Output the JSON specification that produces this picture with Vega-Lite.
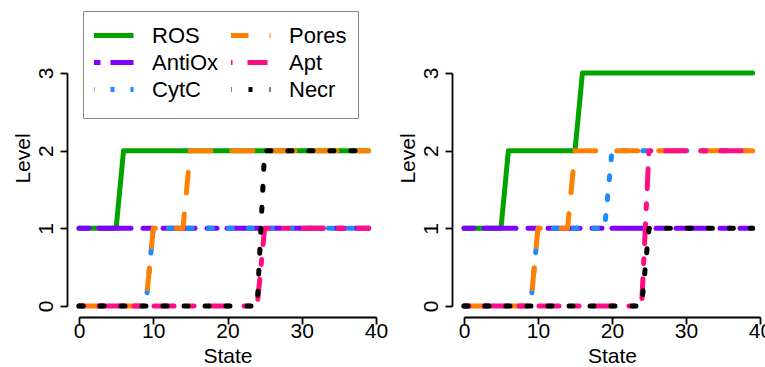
{
  "$schema": "https://vega.github.io/schema/vega-lite/v6.json",
  "padding": {"left": 12, "top": 10, "right": 0, "bottom": 0},
  "bounds": "flush",
  "spacing": 88,
  "config": {
    "view": {"stroke": null},
    "font": "Liberation Sans",
    "line": {"strokeWidth": 5, "strokeCap": "round", "strokeJoin": "round"},
    "axis": {"domainColor": "black", "tickColor": "black", "labelColor": "black", "titleColor": "black", "labelFontSize": 21, "titleFontSize": 21, "titleFontWeight": "normal", "grid": false, "domainWidth": 1.8, "tickWidth": 1.8, "tickSize": 7, "labelFont": "Liberation Sans", "titleFont": "Liberation Sans"}
  },
  "datasets": {
    "left": [
      {"state":0,"ROS":1,"AntiOx":1,"CytC":0,"Pores":0,"Apt":0,"Necr":0},
      {"state":1,"ROS":1,"AntiOx":1,"CytC":0,"Pores":0,"Apt":0,"Necr":0},
      {"state":2,"ROS":1,"AntiOx":1,"CytC":0,"Pores":0,"Apt":0,"Necr":0},
      {"state":3,"ROS":1,"AntiOx":1,"CytC":0,"Pores":0,"Apt":0,"Necr":0},
      {"state":4,"ROS":1,"AntiOx":1,"CytC":0,"Pores":0,"Apt":0,"Necr":0},
      {"state":5,"ROS":1,"AntiOx":1,"CytC":0,"Pores":0,"Apt":0,"Necr":0},
      {"state":6,"ROS":2,"AntiOx":1,"CytC":0,"Pores":0,"Apt":0,"Necr":0},
      {"state":7,"ROS":2,"AntiOx":1,"CytC":0,"Pores":0,"Apt":0,"Necr":0},
      {"state":8,"ROS":2,"AntiOx":1,"CytC":0,"Pores":0,"Apt":0,"Necr":0},
      {"state":9,"ROS":2,"AntiOx":1,"CytC":0,"Pores":0,"Apt":0,"Necr":0},
      {"state":10,"ROS":2,"AntiOx":1,"CytC":1,"Pores":1,"Apt":0,"Necr":0},
      {"state":11,"ROS":2,"AntiOx":1,"CytC":1,"Pores":1,"Apt":0,"Necr":0},
      {"state":12,"ROS":2,"AntiOx":1,"CytC":1,"Pores":1,"Apt":0,"Necr":0},
      {"state":13,"ROS":2,"AntiOx":1,"CytC":1,"Pores":1,"Apt":0,"Necr":0},
      {"state":14,"ROS":2,"AntiOx":1,"CytC":1,"Pores":1,"Apt":0,"Necr":0},
      {"state":15,"ROS":2,"AntiOx":1,"CytC":1,"Pores":2,"Apt":0,"Necr":0},
      {"state":16,"ROS":2,"AntiOx":1,"CytC":1,"Pores":2,"Apt":0,"Necr":0},
      {"state":17,"ROS":2,"AntiOx":1,"CytC":1,"Pores":2,"Apt":0,"Necr":0},
      {"state":18,"ROS":2,"AntiOx":1,"CytC":1,"Pores":2,"Apt":0,"Necr":0},
      {"state":19,"ROS":2,"AntiOx":1,"CytC":1,"Pores":2,"Apt":0,"Necr":0},
      {"state":20,"ROS":2,"AntiOx":1,"CytC":1,"Pores":2,"Apt":0,"Necr":0},
      {"state":21,"ROS":2,"AntiOx":1,"CytC":1,"Pores":2,"Apt":0,"Necr":0},
      {"state":22,"ROS":2,"AntiOx":1,"CytC":1,"Pores":2,"Apt":0,"Necr":0},
      {"state":23,"ROS":2,"AntiOx":1,"CytC":1,"Pores":2,"Apt":0,"Necr":0},
      {"state":24,"ROS":2,"AntiOx":1,"CytC":1,"Pores":2,"Apt":0,"Necr":0},
      {"state":25,"ROS":2,"AntiOx":1,"CytC":1,"Pores":2,"Apt":1,"Necr":2},
      {"state":26,"ROS":2,"AntiOx":1,"CytC":1,"Pores":2,"Apt":1,"Necr":2},
      {"state":27,"ROS":2,"AntiOx":1,"CytC":1,"Pores":2,"Apt":1,"Necr":2},
      {"state":28,"ROS":2,"AntiOx":1,"CytC":1,"Pores":2,"Apt":1,"Necr":2},
      {"state":29,"ROS":2,"AntiOx":1,"CytC":1,"Pores":2,"Apt":1,"Necr":2},
      {"state":30,"ROS":2,"AntiOx":1,"CytC":1,"Pores":2,"Apt":1,"Necr":2},
      {"state":31,"ROS":2,"AntiOx":1,"CytC":1,"Pores":2,"Apt":1,"Necr":2},
      {"state":32,"ROS":2,"AntiOx":1,"CytC":1,"Pores":2,"Apt":1,"Necr":2},
      {"state":33,"ROS":2,"AntiOx":1,"CytC":1,"Pores":2,"Apt":1,"Necr":2},
      {"state":34,"ROS":2,"AntiOx":1,"CytC":1,"Pores":2,"Apt":1,"Necr":2},
      {"state":35,"ROS":2,"AntiOx":1,"CytC":1,"Pores":2,"Apt":1,"Necr":2},
      {"state":36,"ROS":2,"AntiOx":1,"CytC":1,"Pores":2,"Apt":1,"Necr":2},
      {"state":37,"ROS":2,"AntiOx":1,"CytC":1,"Pores":2,"Apt":1,"Necr":2},
      {"state":38,"ROS":2,"AntiOx":1,"CytC":1,"Pores":2,"Apt":1,"Necr":2},
      {"state":39,"ROS":2,"AntiOx":1,"CytC":1,"Pores":2,"Apt":1,"Necr":2}
    ],
    "right": [
      {"state":0,"ROS":1,"AntiOx":1,"CytC":0,"Pores":0,"Apt":0,"Necr":0},
      {"state":1,"ROS":1,"AntiOx":1,"CytC":0,"Pores":0,"Apt":0,"Necr":0},
      {"state":2,"ROS":1,"AntiOx":1,"CytC":0,"Pores":0,"Apt":0,"Necr":0},
      {"state":3,"ROS":1,"AntiOx":1,"CytC":0,"Pores":0,"Apt":0,"Necr":0},
      {"state":4,"ROS":1,"AntiOx":1,"CytC":0,"Pores":0,"Apt":0,"Necr":0},
      {"state":5,"ROS":1,"AntiOx":1,"CytC":0,"Pores":0,"Apt":0,"Necr":0},
      {"state":6,"ROS":2,"AntiOx":1,"CytC":0,"Pores":0,"Apt":0,"Necr":0},
      {"state":7,"ROS":2,"AntiOx":1,"CytC":0,"Pores":0,"Apt":0,"Necr":0},
      {"state":8,"ROS":2,"AntiOx":1,"CytC":0,"Pores":0,"Apt":0,"Necr":0},
      {"state":9,"ROS":2,"AntiOx":1,"CytC":0,"Pores":0,"Apt":0,"Necr":0},
      {"state":10,"ROS":2,"AntiOx":1,"CytC":1,"Pores":1,"Apt":0,"Necr":0},
      {"state":11,"ROS":2,"AntiOx":1,"CytC":1,"Pores":1,"Apt":0,"Necr":0},
      {"state":12,"ROS":2,"AntiOx":1,"CytC":1,"Pores":1,"Apt":0,"Necr":0},
      {"state":13,"ROS":2,"AntiOx":1,"CytC":1,"Pores":1,"Apt":0,"Necr":0},
      {"state":14,"ROS":2,"AntiOx":1,"CytC":1,"Pores":1,"Apt":0,"Necr":0},
      {"state":15,"ROS":2,"AntiOx":1,"CytC":1,"Pores":2,"Apt":0,"Necr":0},
      {"state":16,"ROS":3,"AntiOx":1,"CytC":1,"Pores":2,"Apt":0,"Necr":0},
      {"state":17,"ROS":3,"AntiOx":1,"CytC":1,"Pores":2,"Apt":0,"Necr":0},
      {"state":18,"ROS":3,"AntiOx":1,"CytC":1,"Pores":2,"Apt":0,"Necr":0},
      {"state":19,"ROS":3,"AntiOx":1,"CytC":1,"Pores":2,"Apt":0,"Necr":0},
      {"state":20,"ROS":3,"AntiOx":1,"CytC":2,"Pores":2,"Apt":0,"Necr":0},
      {"state":21,"ROS":3,"AntiOx":1,"CytC":2,"Pores":2,"Apt":0,"Necr":0},
      {"state":22,"ROS":3,"AntiOx":1,"CytC":2,"Pores":2,"Apt":0,"Necr":0},
      {"state":23,"ROS":3,"AntiOx":1,"CytC":2,"Pores":2,"Apt":0,"Necr":0},
      {"state":24,"ROS":3,"AntiOx":1,"CytC":2,"Pores":2,"Apt":0,"Necr":0},
      {"state":25,"ROS":3,"AntiOx":1,"CytC":2,"Pores":2,"Apt":2,"Necr":1},
      {"state":26,"ROS":3,"AntiOx":1,"CytC":2,"Pores":2,"Apt":2,"Necr":1},
      {"state":27,"ROS":3,"AntiOx":1,"CytC":2,"Pores":2,"Apt":2,"Necr":1},
      {"state":28,"ROS":3,"AntiOx":1,"CytC":2,"Pores":2,"Apt":2,"Necr":1},
      {"state":29,"ROS":3,"AntiOx":1,"CytC":2,"Pores":2,"Apt":2,"Necr":1},
      {"state":30,"ROS":3,"AntiOx":1,"CytC":2,"Pores":2,"Apt":2,"Necr":1},
      {"state":31,"ROS":3,"AntiOx":1,"CytC":2,"Pores":2,"Apt":2,"Necr":1},
      {"state":32,"ROS":3,"AntiOx":1,"CytC":2,"Pores":2,"Apt":2,"Necr":1},
      {"state":33,"ROS":3,"AntiOx":1,"CytC":2,"Pores":2,"Apt":2,"Necr":1},
      {"state":34,"ROS":3,"AntiOx":1,"CytC":2,"Pores":2,"Apt":2,"Necr":1},
      {"state":35,"ROS":3,"AntiOx":1,"CytC":2,"Pores":2,"Apt":2,"Necr":1},
      {"state":36,"ROS":3,"AntiOx":1,"CytC":2,"Pores":2,"Apt":2,"Necr":1},
      {"state":37,"ROS":3,"AntiOx":1,"CytC":2,"Pores":2,"Apt":2,"Necr":1},
      {"state":38,"ROS":3,"AntiOx":1,"CytC":2,"Pores":2,"Apt":2,"Necr":1},
      {"state":39,"ROS":3,"AntiOx":1,"CytC":2,"Pores":2,"Apt":2,"Necr":1}
    ]
  },
  "resolve": {"scale": {"color": "independent", "strokeDash": "independent"}, "legend": {"color": "independent", "strokeDash": "independent"}},
  "hconcat": [
    {
      "width": 297,
      "height": 233,
      "data": {"name": "left"},
      "transform": [{"fold": ["ROS", "AntiOx", "CytC", "Pores", "Apt", "Necr"], "as": ["var", "level"]}],
      "encoding": {
        "x": {"field": "state", "type": "quantitative", "scale": {"domain": [0, 40], "nice": false, "zero": false},
          "axis": {"title": "State", "values": [0, 10, 20, 30, 40], "offset": 11, "labelPadding": -4, "titlePadding": 4, "labelFlush": false, "labelOverlap": false}},
        "y": {"field": "level", "type": "quantitative", "scale": {"domain": [0, 3], "nice": false},
          "axis": {"title": "Level", "values": [0, 1, 2, 3], "offset": 12, "labelAngle": -90, "labelAlign": "center", "labelBaseline": "alphabetic", "labelPadding": 8, "titleAngle": -90, "titleBaseline": "alphabetic", "titleAlign": "center", "titleX": -38, "titleY": 85}},
        "color": {"field": "var", "type": "nominal",
          "scale": {"domain": ["ROS", "AntiOx", "CytC", "Pores", "Apt", "Necr"], "range": ["#00A300", "#8000FF", "#1A8CFF", "#FF8000", "#FF0D85", "#000000"]},
          "legend": {"title": " ", "titleOrient": "bottom", "titleFontSize": 2, "titlePadding": 2, "orient": "none", "legendX": 4, "legendY": -62, "columns": 2, "symbolType": "stroke", "symbolSize": 1849, "symbolStrokeWidth": 5, "symbolOffset": -6, "labelOffset": 16, "labelFontSize": 22, "labelFont": "Liberation Sans", "labelColor": "black", "labelLimit": 300, "padding": 11, "rowPadding": 0, "columnPadding": 12, "clipHeight": 27, "strokeColor": "#888888", "fillColor": "white",
            "encode": {"symbols": {"update": {"strokeCap": {"value": "round"}}}}}},
        "strokeDash": {"field": "var", "type": "nominal",
          "scale": {"domain": ["ROS", "AntiOx", "CytC", "Pores", "Apt", "Necr"], "range": [[1, 0], [10, 10, 32, 12], [4, 16], [21, 21], [5, 15, 20, 15], [4, 17]]},
          "legend": {"title": " ", "titleOrient": "bottom", "titleFontSize": 2, "titlePadding": 2, "orient": "none", "legendX": 4, "legendY": -62, "columns": 2, "symbolType": "stroke", "symbolSize": 1849, "symbolStrokeWidth": 5, "symbolOffset": -6, "labelOffset": 16, "labelFontSize": 22, "labelFont": "Liberation Sans", "labelColor": "black", "labelLimit": 300, "padding": 11, "rowPadding": 0, "columnPadding": 12, "clipHeight": 27, "strokeColor": "#888888", "fillColor": "white",
            "encode": {"symbols": {"update": {"strokeCap": {"value": "round"}}}}}}
      },
      "layer": [
        {"transform": [{"filter": "datum.var === 'ROS'"}], "mark": "line"},
        {"transform": [{"filter": "datum.var === 'AntiOx'"}], "mark": "line"},
        {"transform": [{"filter": "datum.var === 'CytC'"}], "mark": "line"},
        {"transform": [{"filter": "datum.var === 'Pores'"}], "mark": "line"},
        {"transform": [{"filter": "datum.var === 'Apt'"}], "mark": "line"},
        {"transform": [{"filter": "datum.var === 'Necr'"}], "mark": "line"}
      ]
    },
    {
      "width": 296,
      "height": 233,
      "data": {"name": "right"},
      "transform": [{"fold": ["ROS", "AntiOx", "CytC", "Pores", "Apt", "Necr"], "as": ["var", "level"]}],
      "encoding": {
        "x": {"field": "state", "type": "quantitative", "scale": {"domain": [0, 40], "nice": false, "zero": false},
          "axis": {"title": "State", "values": [0, 10, 20, 30, 40], "offset": 11, "labelPadding": -4, "titlePadding": 4, "labelFlush": false, "labelOverlap": false}},
        "y": {"field": "level", "type": "quantitative", "scale": {"domain": [0, 3], "nice": false},
          "axis": {"title": "Level", "values": [0, 1, 2, 3], "offset": 12, "labelAngle": -90, "labelAlign": "center", "labelBaseline": "alphabetic", "labelPadding": 8, "titleAngle": -90, "titleBaseline": "alphabetic", "titleAlign": "center", "titleX": -38, "titleY": 85}},
        "color": {"field": "var", "type": "nominal",
          "scale": {"domain": ["ROS", "AntiOx", "CytC", "Pores", "Apt", "Necr"], "range": ["#00A300", "#8000FF", "#1A8CFF", "#FF8000", "#FF0D85", "#000000"]},
          "legend": null},
        "strokeDash": {"field": "var", "type": "nominal",
          "scale": {"domain": ["ROS", "AntiOx", "CytC", "Pores", "Apt", "Necr"], "range": [[1, 0], [10, 10, 32, 12], [4, 16], [21, 21], [5, 15, 20, 15], [4, 17]]},
          "legend": null}
      },
      "layer": [
        {"transform": [{"filter": "datum.var === 'ROS'"}], "mark": "line"},
        {"transform": [{"filter": "datum.var === 'AntiOx'"}], "mark": "line"},
        {"transform": [{"filter": "datum.var === 'CytC'"}], "mark": "line"},
        {"transform": [{"filter": "datum.var === 'Pores'"}], "mark": "line"},
        {"transform": [{"filter": "datum.var === 'Apt'"}], "mark": "line"},
        {"transform": [{"filter": "datum.var === 'Necr'"}], "mark": "line"}
      ]
    }
  ]
}
